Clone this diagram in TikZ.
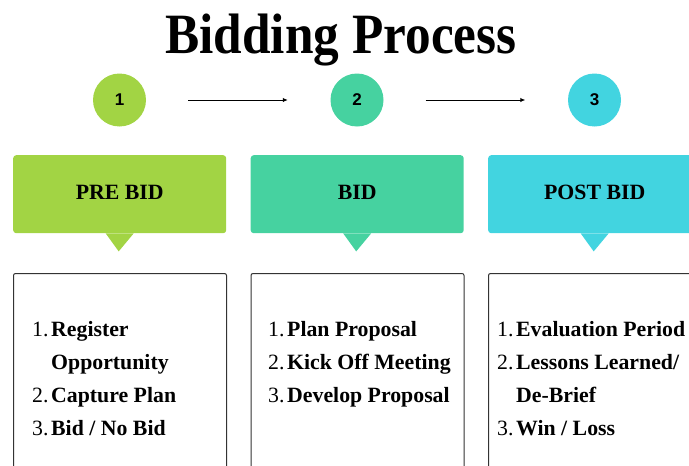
\documentclass[tikz,border=0pt]{standalone}
\usepackage{fontspec}
\usepackage{graphicx}
\setmainfont{Liberation Serif}
\newfontfamily\numfont{Liberation Sans}
\usetikzlibrary{arrows.meta}
\definecolor{phaseA}{HTML}{A2D444}
\definecolor{phaseB}{HTML}{46D2A0}
\definecolor{phaseC}{HTML}{42D4E0}
\tikzset{
  num/.style={circle, fill=#1, minimum size=53pt, inner sep=0pt,
    font=\numfont\bfseries\fontsize{17}{17}\selectfont},
  phase/.style={fill=#1, rounded corners=3pt, minimum width=213pt,
    minimum height=78pt, anchor=north west, text depth=4pt,
    font=\bfseries\fontsize{21.8}{21.8}\selectfont},
  listbox/.style={draw=black!80, line width=1pt, rounded corners=2pt,
    minimum width=213pt, minimum height=215pt, anchor=north west},
  items/.style={anchor=north west, inner sep=0pt, align=left,
    font=\fontsize{21.8}{33}\selectfont},
  flow/.style={-{Latex[length=5pt,width=4.5pt]}, line width=1pt}
}
\newcommand{\itm}[2]{\makebox[19pt][l]{#1}\textbf{#2}}
\newcommand{\cnt}[1]{\hspace*{19pt}\textbf{#1}}
\begin{document}
\begin{tikzpicture}[x=1pt,y=-1pt]
  \clip (0,0) rectangle (689,466);
  \node[anchor=base, font=\bfseries\fontsize{57}{57}\selectfont] (title) at (341,53)
    {\scalebox{0.9}[1]{Bidding Process}};

  \node[num=phaseA] (s1) at (119.5,100) {1};
  \node[num=phaseB] (s2) at (357,100) {2};
  \node[num=phaseC] (s3) at (594.5,100) {3};
  \begin{scope}[flow, shorten <=42pt, shorten >=42.5pt]
    \draw (s1) -- (s2);
    \draw (s2) -- (s3);
  \end{scope}

  \node[phase=phaseA] (pre) at (13,155) {PRE BID\hspace{6pt}};
  \node[phase=phaseB] (bid) at (250.5,155) {BID\hspace{6pt}};
  \node[phase=phaseC] (post) at (488,155) {POST BID\hspace{6pt}};
  \foreach \p/\c in {pre/phaseA, bid/phaseB, post/phaseC}
    \fill[\c] ([xshift=-14pt]\p.south) -- ([xshift=14pt]\p.south)
      -- ([xshift=-1pt,yshift=-18pt]\p.south) -- cycle;

  \node[listbox] (l1) at (13,273) {};
  \node[listbox] (l2) at (250.5,273) {};
  \node[listbox] (l3) at (488,273) {};
  \node[items] (t1) at (32,313) {\strut\itm{1.}{Register}\\ \cnt{Opportunity}\\
    \itm{2.}{Capture Plan}\\ \itm{3.}{Bid / No Bid}};
  \node[items] (t2) at (268,313) {\strut\itm{1.}{Plan Proposal}\\
    \itm{2.}{Kick Off Meeting}\\ \itm{3.}{Develop Proposal}};
  \node[items] (t3) at (497,313) {\strut\itm{1.}{Evaluation Period}\\
    \itm{2.}{Lessons Learned/}\\ \cnt{De-Brief}\\ \itm{3.}{Win / Loss}};
\end{tikzpicture}
\end{document}
